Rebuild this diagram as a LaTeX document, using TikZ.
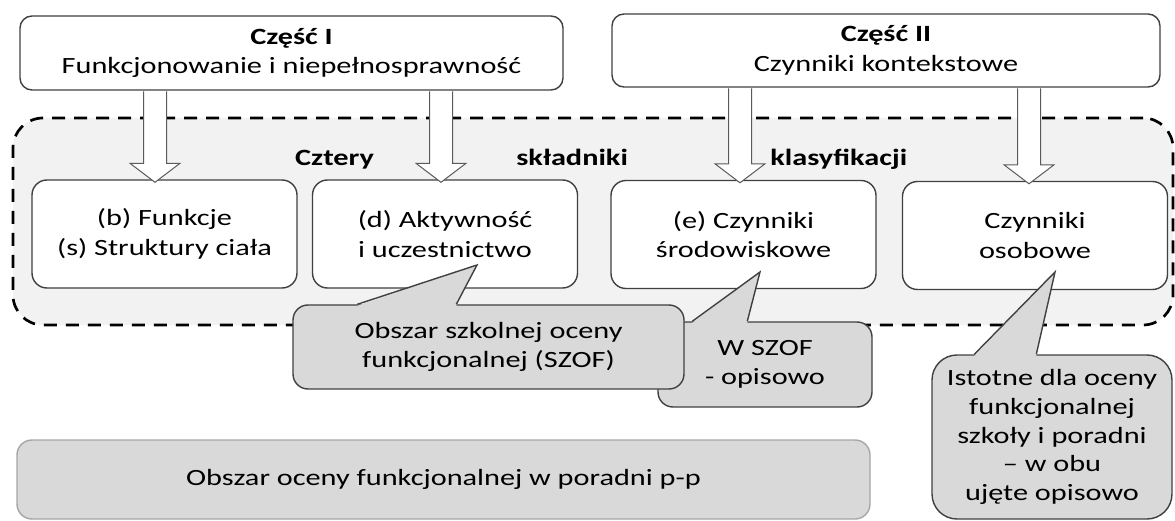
\documentclass[tikz,border=0pt]{standalone}
\usepackage{fontspec}
\setmainfont{Carlito}
\usepackage{graphicx}
\usetikzlibrary{calc}
\definecolor{edgegray}{HTML}{404040}
\definecolor{arrowgray}{HTML}{5A5A5A}
\definecolor{zonegray}{HTML}{F2F2F2}
\definecolor{notegray}{HTML}{D9D9D9}
\definecolor{rimgray}{HTML}{A6A6A6}
\newcommand{\wide}[1]{\scalebox{1.3}[1]{#1}}

\begin{document}
\begin{tikzpicture}[x=1pt,y=-1pt,
	font=\fontsize{23.3}{29.5}\selectfont,
	region/.style={draw=black,line width=2.7pt,dash pattern=on 13pt off 9pt,fill=zonegray,rounded corners=30pt,inner sep=0pt},
	box/.style={draw=edgegray,line width=1.4pt,fill=white,rounded corners=15pt,minimum width=265pt,minimum height=108pt,align=center,inner sep=0pt},
	partbox/.style={draw=edgegray,line width=1.4pt,fill=white,rounded corners=12pt,align=center,inner sep=0pt},
	note/.style={draw=edgegray,line width=1.4pt,fill=notegray,rounded corners=15pt,align=center,inner sep=0pt},
	pointer/.style={draw=edgegray,line width=1.4pt,line join=miter},
	bigarrow/.style={draw=arrowgray,line width=1pt,fill=white,line join=miter}]
	\useasboundingbox (0,0) rectangle (1175,521);
	% dashed zone with the four components
	\node (zone) [region,minimum width=1160pt,minimum height=207pt] at (593,221.5) {};
	\node (title) [anchor=base west,inner sep=0pt,font=\fontsize{23.3}{29.5}\selectfont\bfseries] at (295,166)
		{\makebox[612pt][s]{\wide{Cztery} \wide{składniki} \wide{klasyfikacji}}};
	\node (fb) [box] at (164.5,234) {\wide{(b) Funkcje}\\\wide{(s) Struktury ciała}};
	\node (da) [box] at (445,234) {\wide{(d) Aktywność}\\\wide{i uczestnictwo}};
	\node (ec) [box] at (743.5,234.5) {\wide{(e) Czynniki}\\\wide{środowiskowe}};
	\node (op) [box] at (1035,235.5) {\wide{Czynniki}\\\wide{osobowe}};
	% two parts on top
	\node (partI) [partbox,minimum width=543pt,minimum height=74pt] at (291.5,53)
		{\wide{\textbf{Część I}}\\\wide{Funkcjonowanie i niepełnosprawność}};
	\node (partII) [partbox,minimum width=548pt,minimum height=73pt] at (886,50.5)
		{\wide{\textbf{Część II}}\\\wide{Czynniki kontekstowe}};
	\foreach \ax/\src/\dst in {155/partI/fb,441/partI/da,740/partII/ec,1029/partII/op}{
		\coordinate (ax) at (\ax,0);
		\coordinate (top) at ($(\src.south -| ax)+(0,0.7)$);
		\coordinate (tip) at ($(\dst.north -| ax)+(0,3)$);
		\filldraw[bigarrow] ($(top)+(-11.5,0)$) -- ($(tip)+(-11.5,-19)$) -- ($(tip)+(-25,-19)$) -- (tip)
			-- ($(tip)+(25,-19)$) -- ($(tip)+(11.5,-19)$) -- ($(top)+(11.5,0)$);
	}
	% callouts
	\node (wszof) [note,minimum width=214pt,minimum height=85pt] at (765,364.5) {\wide{W SZOF}\\\wide{- opisowo}};
	\coordinate (wtip) at (760,272);
	\fill[notegray] ($(wszof.north west)+(35,1.5)$) -- (wtip) -- ($(wszof.north west)+(90,1.5)$) -- cycle;
	\draw[pointer] ($(wszof.north west)+(35,0)$) -- (wtip) -- ($(wszof.north west)+(90,0)$);
	\node (szof) [note,minimum width=391pt,minimum height=84pt] at (488.5,347)
		{\wide{Obszar szkolnej oceny}\\\wide{funkcjonalnej (SZOF)}};
	\coordinate (stip) at (477,265);
	\fill[notegray] ($(szof.north west)+(65,1.5)$) -- (stip) -- ($(szof.north west)+(164,1.5)$) -- cycle;
	\draw[pointer] ($(szof.north west)+(65,0)$) -- (stip) -- ($(szof.north west)+(164,0)$);
	\node (ist) [note,rounded corners=25pt,minimum width=240pt,minimum height=164pt,font=\fontsize{23.3}{28.8}\selectfont] at (1052,437)
		{\wide{Istotne dla oceny}\\\wide{funkcjonalnej}\\\wide{szkoły i poradni}\\\wide{– w obu}\\\wide{ujęte opisowo}};
	\coordinate (itip) at (1055,272);
	\fill[notegray] ($(ist.north west)+(43,1.5)$) -- (itip) -- ($(ist.north west)+(105,1.5)$) -- cycle;
	\draw[pointer] ($(ist.north west)+(43,0)$) -- (itip) -- ($(ist.north west)+(105,0)$);
	\node (por) [note,draw=rimgray,minimum width=853pt,minimum height=79pt] at (443.5,479.5)
		{\wide{Obszar oceny funkcjonalnej w poradni p-p}};
\end{tikzpicture}
\end{document}
